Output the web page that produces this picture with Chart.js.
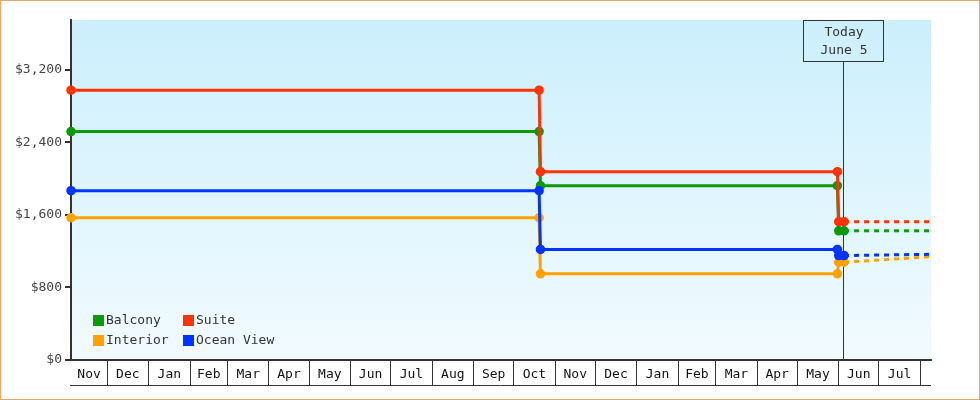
<!DOCTYPE html>
<html>
<head>
<meta charset="utf-8">
<script src="https://cdn.jsdelivr.net/npm/chart.js@4.4.1/dist/chart.umd.min.js"></script>
<style>
  html, body { margin: 0; padding: 0; background: #fff; }
  #wrap { position: relative; width: 978px; height: 398px; border: 1px solid #e8a868; }
</style>
</head>
<body>
<div id="wrap"><canvas id="fareChart"></canvas></div>
<script>
// fare history
const stepDates = ['2016-11-04', '2017-10-20', '2017-10-21', '2018-05-31', '2018-06-01', '2018-06-05'];
const balcony = [2519, 2519, 1923, 1923, 1425, 1425];
const suite = [2976, 2976, 2077, 2077, 1525, 1525];
const interior = [1569, 1569, 950, 950, 1078, 1078];
const oceanView = [1867, 1867, 1219, 1219, 1152, 1152];

// projection after today (dashed)
const forecastDates = ['2018-06-05', '2018-08-09'];
const balconyForecast = [1425, 1425];
const suiteForecast = [1525, 1525];
const interiorForecast = [1078, 1140];
const oceanViewForecast = [1152, 1166];

// month boxes under the chart
const monthStarts = ['2016-11-01', '2016-12-01', '2017-01-01', '2017-02-01', '2017-03-01', '2017-04-01',
  '2017-05-01', '2017-06-01', '2017-07-01', '2017-08-01', '2017-09-01', '2017-10-01', '2017-11-01',
  '2017-12-01', '2018-01-01', '2018-02-01', '2018-03-01', '2018-04-01', '2018-05-01', '2018-06-01',
  '2018-07-01', '2018-08-01', '2018-09-01'];
const monthLabels = ['Nov', 'Dec', 'Jan', 'Feb', 'Mar', 'Apr', 'May', 'Jun', 'Jul', 'Aug', 'Sep', 'Oct',
  'Nov', 'Dec', 'Jan', 'Feb', 'Mar', 'Apr', 'May', 'Jun', 'Jul', ''];
const yTicks = [0, 800, 1600, 2400, 3200];

const todayDate = '2018-06-05';
const todayText = ['Today', 'June 5'];

const colors = { balcony: '#0a9a0a', suite: '#ff3300', interior: '#ffa200', ocean: '#0033ff' };
const FONT = "'DejaVu Sans Mono', monospace";

// days since epoch, so a linear axis can act like a time axis
const day = s => Date.parse(s + 'T00:00:00Z') / 86400000;
const xMin = day(stepDates[0]);
const xMax = day(forecastDates[forecastDates.length - 1]);

const pts = (dates, vals) => dates.map((d, i) => ({ x: day(d), y: vals[i] }));

function stepSet(label, vals, color) {
    return {
        label: label, data: pts(stepDates, vals),
        borderColor: color, backgroundColor: color,
        borderWidth: 3, pointRadius: 4, pointBorderWidth: 1.5,
        pointBorderColor: color, tension: 0, clip: false
    };
}
function dashSet(vals, color) {
    return {
        label: '', data: pts(forecastDates, vals), borderColor: color,
        borderWidth: 3, borderDash: [5, 5], pointRadius: 0, tension: 0, clip: false
    };
}

// background gradient behind the plot
const bgPlugin = {
    id: 'bg',
    beforeDraw(chart) {
        const a = chart.chartArea, ctx = chart.ctx;
        const g = ctx.createLinearGradient(0, a.top, 0, a.bottom);
        g.addColorStop(0, '#cceffc');
        g.addColorStop(1, '#f2fbff');
        ctx.save();
        ctx.fillStyle = g;
        ctx.fillRect(a.left, a.top, a.right - a.left, a.bottom - a.top);
        ctx.restore();
    }
};

// the "today" marker box and line
const todayPlugin = {
    id: 'today',
    beforeDatasetsDraw(chart) {
        const a = chart.chartArea, ctx = chart.ctx;
        const x = Math.round(chart.scales.x.getPixelForValue(day(todayDate))) - 0.5;
        ctx.save();
        ctx.strokeStyle = '#333';
        ctx.lineWidth = 1;
        ctx.strokeRect(x - 40, a.top + 0.5, 80, 41);
        ctx.beginPath();
        ctx.moveTo(x, a.top + 41.5);
        ctx.lineTo(x, a.bottom);
        ctx.stroke();
        ctx.fillStyle = '#333';
        ctx.font = '13px ' + FONT;
        ctx.textAlign = 'center';
        ctx.textBaseline = 'middle';
        ctx.fillText(todayText[0], x + 0.5, a.top + 13);
        ctx.fillText(todayText[1], x + 0.5, a.top + 31);
        ctx.restore();
    }
};

// legend inside the plot, bottom left, two columns
const legendPlugin = {
    id: 'innerLegend',
    afterDatasetsDraw(chart) {
        const a = chart.chartArea, ctx = chart.ctx;
        const items = [['Balcony', 0, 0], ['Suite', 1, 0], ['Interior', 0, 1], ['Ocean View', 1, 1]];
        ctx.save();
        ctx.font = '13px ' + FONT;
        ctx.textBaseline = 'middle';
        items.forEach(([name, col, row]) => {
            const ds = chart.data.datasets.find(d => d.label === name);
            const x = a.left + 22 + col * 90;
            const y = a.bottom - 40 + row * 20;
            ctx.fillStyle = ds.borderColor;
            ctx.fillRect(x, y - 5, 11, 11);
            ctx.fillStyle = '#333';
            ctx.fillText(name, x + 13, y + 1);
        });
        ctx.restore();
    }
};

// bottom edge of the month boxes
const boxLinePlugin = {
    id: 'boxLine',
    afterDraw(chart) {
        const a = chart.chartArea, ctx = chart.ctx;
        const y = chart.scales.x.top + 25.5;
        ctx.save();
        ctx.strokeStyle = '#333';
        ctx.lineWidth = 1;
        ctx.beginPath();
        ctx.moveTo(a.left - 1, y);
        ctx.lineTo(a.right, y);
        ctx.stroke();
        ctx.restore();
    }
};

const fareChart = new Chart(document.getElementById('fareChart').getContext('2d'), {
    type: 'line',
    data: {
        datasets: [
            dashSet(suiteForecast, colors.suite),
            dashSet(balconyForecast, colors.balcony),
            dashSet(oceanViewForecast, colors.ocean),
            dashSet(interiorForecast, colors.interior),
            stepSet('Suite', suite, colors.suite),
            stepSet('Ocean View', oceanView, colors.ocean),
            stepSet('Balcony', balcony, colors.balcony),
            stepSet('Interior', interior, colors.interior)
        ]
    },
    options: {
        responsive: true,
        maintainAspectRatio: false,
        animation: false,
        layout: { padding: { top: 19, right: 48, bottom: 14, left: 0 } },
        plugins: { legend: { display: false }, tooltip: { enabled: false } },
        scales: {
            x: {
                type: 'linear',
                min: xMin,
                max: xMax,
                afterFit: s => { s.height = 25; },
                afterBuildTicks: s => {
                    const t = [];
                    for (let i = 0; i < monthStarts.length - 1; i++) {
                        const a = day(monthStarts[i]), b = day(monthStarts[i + 1]);
                        if (b <= xMin || a >= xMax) continue;
                        if (a > xMin) t.push({ value: a, name: '' });
                        t.push({ value: (Math.max(a, xMin) + Math.min(b, xMax)) / 2, name: monthLabels[i], mid: true });
                    }
                    s.ticks = t;
                },
                border: { color: '#333', width: 2 },
                grid: {
                    drawOnChartArea: false,
                    tickLength: 25,
                    lineWidth: 1,
                    color: c => (c.tick && c.tick.mid) ? 'rgba(0,0,0,0)' : '#333'
                },
                ticks: {
                    autoSkip: false,
                    maxRotation: 0,
                    padding: -18,
                    color: '#111',
                    font: { family: FONT, size: 13 },
                    callback: (v, i, ticks) => ticks[i].name || ''
                }
            },
            y: {
                min: 0,
                max: 3750,
                afterFit: s => { s.width = 70; },
                afterBuildTicks: s => { s.ticks = yTicks.map(v => ({ value: v })); },
                border: { color: '#333', width: 2 },
                grid: { drawOnChartArea: false, tickLength: 6, lineWidth: 2, color: '#333' },
                ticks: {
                    padding: 3,
                    color: '#444',
                    font: { family: FONT, size: 13 },
                    callback: v => '$' + v.toLocaleString('en-US')
                }
            }
        }
    },
    plugins: [bgPlugin, todayPlugin, legendPlugin, boxLinePlugin]
});
</script>
</body>
</html>
